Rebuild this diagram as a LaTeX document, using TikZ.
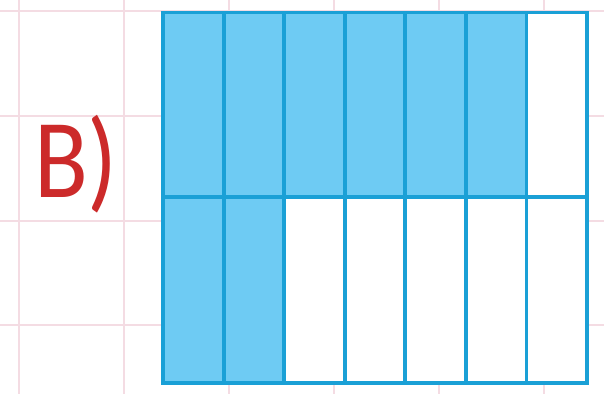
\documentclass[tikz,border=0pt]{standalone}
\usepackage{fontspec}
\setmainfont{Carlito}
\newfontfamily\labelfont[FakeStretch=0.88]{Carlito}
\definecolor{cellblue}{RGB}{110,203,243}
\definecolor{lineblue}{RGB}{26,160,214}
\definecolor{gridpink}{RGB}{244,220,227}
\definecolor{labelred}{RGB}{204,42,42}
\tikzset{
  gridline/.style={draw=gridpink, line width=0.5pt},
  cell/.style={draw=lineblue, line width=1.1pt, fill=white},
  shaded/.style={cell, fill=cellblue},
  label/.style={text=labelred, font=\labelfont\fontsize{32}{36}\selectfont, inner sep=0pt},
}
\begin{document}
\begin{tikzpicture}[x=0.01cm, y=-0.01cm]

  % ---- Canvas ----
  \useasboundingbox (0,0) rectangle (604,394);
  \fill[white] (0,0) rectangle (604,394);

  % ---- Background grid ----
  \foreach \gx in {19,124,229,334,439,544}
    \draw[gridline] (\gx,0) -- (\gx,394);
  \foreach \gy in {11,116,221,325}
    \draw[gridline] (0,\gy) -- (604,\gy);

  % ---- Label ----
  \node (lbl) [label] at (76,164) {B)};

  % ---- Fraction bar: 7 columns, 2 rows ----
  \foreach \c in {0,...,6} {
    \pgfmathsetmacro{\xa}{163+\c*60.57}
    \pgfmathsetmacro{\xb}{163+(\c+1)*60.57}
    \ifnum\c<6
      \draw[shaded] (\xa,12.5) rectangle (\xb,197);
    \else
      \draw[cell] (\xa,12.5) rectangle (\xb,197);
    \fi
    \ifnum\c<2
      \draw[shaded] (\xa,197) rectangle (\xb,383);
    \else
      \draw[cell] (\xa,197) rectangle (\xb,383);
    \fi
  }

\end{tikzpicture}
\end{document}
